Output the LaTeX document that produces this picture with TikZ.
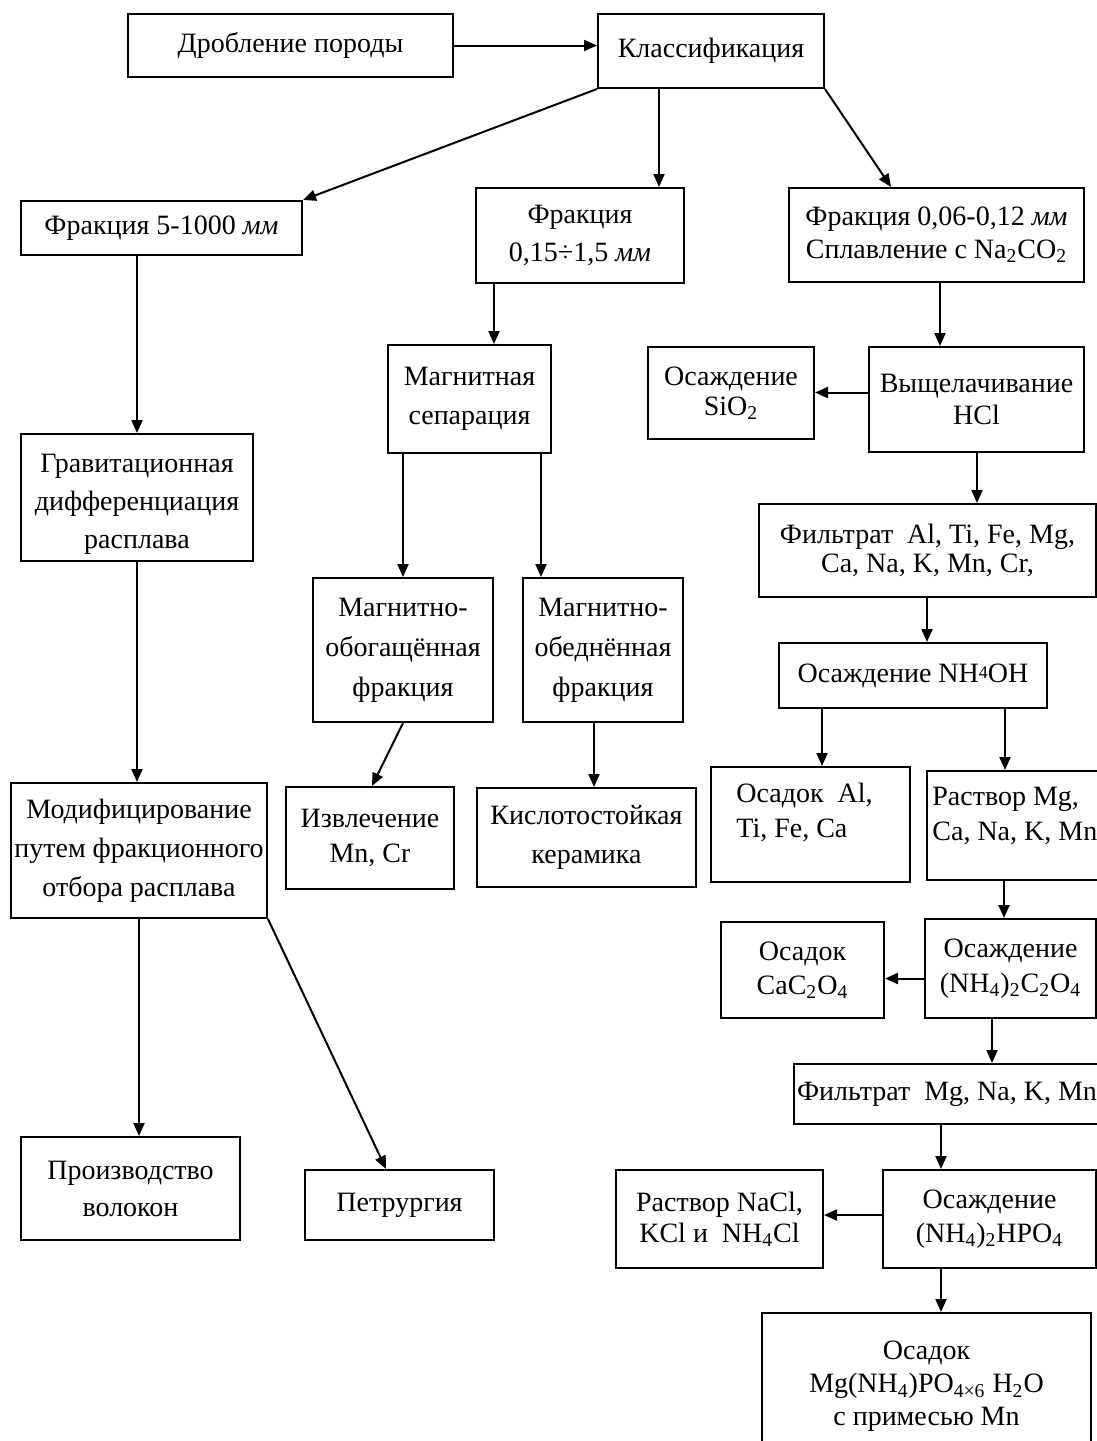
\documentclass[tikz,border=0pt]{standalone}
\usepackage{fontspec}
\setmainfont{Liberation Serif}
\usetikzlibrary{arrows.meta,calc}

\begin{document}
\begin{tikzpicture}[x=0.5pt,y=-0.5pt,
  box/.style={draw,line width=1pt,inner sep=0pt,align=center,font=\fontsize{14}{17}\selectfont},
  sz/.style 2 args={minimum width=#1*0.5pt,minimum height=#2*0.5pt},
  ls/.style={font=\fontsize{14}{#1}\selectfont},
  txt/.style={inner sep=0pt,align=left,font=\fontsize{14}{17.5}\selectfont},
  arr/.style={line width=1pt,-{Triangle[length=6.5pt,width=5.5pt]}}]
\clip (0,0) rectangle (1097,1441);
\fill[white] (0,0) rectangle (1097,1441);

% --- top row ---
\node[box, sz={325}{63}] (drob) at (290.5,45.5) {Дробление породы};
\node[box, sz={226}{74}] (klass) at (711,51) {Классификация};

% --- fractions ---
\node[box, sz={281}{54}] (f5) at (161.5,228) {Фракция 5-1000 \textit{мм}};
\node[box, ls=19, sz={208}{95}] (f015) at (580,235.5) {Фракция\\0,15÷1,5 \textit{мм}};
\node[box, ls=16.5, sz={295}{94}] (f006) at (936.5,235)
  {Фракция 0,06-0,12 \textit{мм}\\Сплавление с Na\textsubscript{2}CO\textsubscript{2}};

% --- left branch ---
\node[box, sz={232}{127}] (grav) at (137,497.5) {};
\node[txt, align=center, ls=19] (grav-t) at ($(grav.center)+(0,7)$) {Гравитационная\\дифференциация\\расплава};
\node[box, ls=19.5, sz={256}{135}] (modif) at (139,850.5) {Модифицирование\\путем фракционного\\отбора расплава};
\node[box, ls=18.5, sz={219}{103}] (proizv) at (130.5,1188.5) {Производство\\волокон};
\node[box, sz={189}{70}] (petr) at (399.5,1205) {Петрургия};

% --- middle branch ---
\node[box, ls=19.5, sz={163}{108}] (magsep) at (469.5,399) {Магнитная\\сепарация};
\node[box, ls=20, sz={180}{144}] (obog) at (403,650) {Магнитно-\\обогащённая\\фракция};
\node[box, ls=20, sz={160}{144}] (obed) at (603,650) {Магнитно-\\обеднённая\\фракция};
\node[box, ls=17.5, sz={168}{102}] (izvl) at (370,838) {Извлечение\\Mn, Cr};
\node[box, ls=19.5, sz={219}{99}] (kisl) at (586.5,837.5) {Кислотостойкая\\керамика};

% --- right branch ---
\node[box, ls=15, sz={166}{92}] (sio2) at (731,393) {Осаждение\\SiO\textsubscript{2}};
\node[box, ls=16, sz={215}{105}] (vysh) at (976.5,399.5) {Выщелачивание\\HCl};
\node[box, ls=14.5, sz={337}{93}] (filt1) at (927.5,550.5) {Фильтрат\ \ Al, Ti, Fe, Mg,\\Ca, Na, K, Mn, Cr,};
\node[box, sz={268}{65}] (nh4oh) at (913,675.5) {Осаждение NH\raisebox{.25ex}{\fontsize{9}{9}\selectfont 4}OH};
\node[box, sz={199}{115}] (osAl) at (810.5,824.5) {};
\node[txt, anchor=west] (osAl-t) at ($(osAl.west)+(26,-12)$) {Осадок\ \ Al,\\Ti, Fe, Ca};
\node[box, sz={173}{109}] (rastv) at (1013.5,825.5) {};
\node[txt, anchor=west] (rastv-t) at ($(rastv.west)+(6,-10)$) {Раствор Mg,\\Ca, Na, K, Mn};
\node[box, ls=17.5, sz={171}{99}] (osC) at (1010.5,968.5)
  {Осаждение\\(NH\textsubscript{4})\textsubscript{2}C\textsubscript{2}O\textsubscript{4}};
\node[box, sz={163}{96}] (cac) at (802.5,970) {Осадок\\CaC\textsubscript{2}O\textsubscript{4}};
\node[box, sz={306}{60}] (filt2) at (947,1094) {Фильтрат\ \ Mg, Na, K, Mn};
\node[box, sz={213}{98}] (hpo) at (989.5,1219) {Осаждение\\(NH\textsubscript{4})\textsubscript{2}HPO\textsubscript{4}};
\node[box, ls=15.5, sz={207}{98}] (nacl) at (719.5,1219) {Раствор NaCl,\\KCl и\ \ NH\textsubscript{4}Cl};
\node[box, ls=16.5, sz={329}{147}] (osMg) at (926.5,1386.5)
  {Осадок\\Mg(NH\textsubscript{4})PO\textsubscript{4×6} H\textsubscript{2}O\\с примесью Mn};

% --- connectors ---
\draw[arr] (drob.east) -- (drob.east -| klass.west);
\draw[arr] (klass.south west) -- (f5.north east);
\draw[arr] ($(klass.south west)+(62,0)$) coordinate (k1) -- (k1 |- f015.north);
\draw[arr] (klass.south east) -- ($(f006.north west)+(103,0)$);

\draw[arr] (grav.north |- f5.south) -- (grav.north);
\draw[arr] (grav.south) -- (grav.south |- modif.north);
\draw[arr] (modif.south) -- (modif.south |- proizv.north);
\draw[arr] (modif.south east) -- ($(petr.north west)+(82,0)$);

\draw[arr] ($(f015.south west)+(19,0)$) coordinate (f1) -- (f1 |- magsep.north);
\draw[arr] ($(magsep.south west)+(16,0)$) coordinate (m1) -- (m1 |- obog.north);
\draw[arr] ($(magsep.south east)+(-11,0)$) coordinate (m2) -- (m2 |- obed.north);
\draw[arr] ($(obog.south west)+(91,0)$) -- ($(izvl.north west)+(87,0)$);
\draw[arr] ($(obed.south west)+(72,0)$) coordinate (o1) -- (o1 |- kisl.north);

\draw[arr] ($(f006.south west)+(152,0)$) coordinate (f2) -- (f2 |- vysh.north);
\draw[arr] ($(vysh.west)+(0,-7)$) coordinate (v1) -- (v1 -| sio2.east);
\draw[arr] ($(vysh.south west)+(109,0)$) coordinate (v2) -- (v2 |- filt1.north);
\draw[arr] ($(filt1.south west)+(169,0)$) coordinate (f3) -- (f3 |- nh4oh.north);
\draw[arr] ($(nh4oh.south west)+(44,0)$) coordinate (n1) -- (n1 |- osAl.north);
\draw[arr] ($(nh4oh.south west)+(227,0)$) coordinate (n2) -- (n2 |- rastv.north);
\draw[arr] ($(rastv.south west)+(78,0)$) coordinate (r1) -- (r1 |- osC.north);
\draw[arr] ($(osC.west)+(0,10)$) coordinate (c1) -- (c1 -| cac.east);
\draw[arr] ($(osC.south west)+(68,0)$) coordinate (c2) -- (c2 |- filt2.north);
\draw[arr] ($(filt2.south west)+(148,0)$) coordinate (f4) -- (f4 |- hpo.north);
\draw[arr] ($(hpo.west)+(0,-4)$) coordinate (h1) -- (h1 -| nacl.east);
\draw[arr] ($(hpo.south west)+(59,0)$) coordinate (h2) -- (h2 |- osMg.north);
\end{tikzpicture}
\end{document}
